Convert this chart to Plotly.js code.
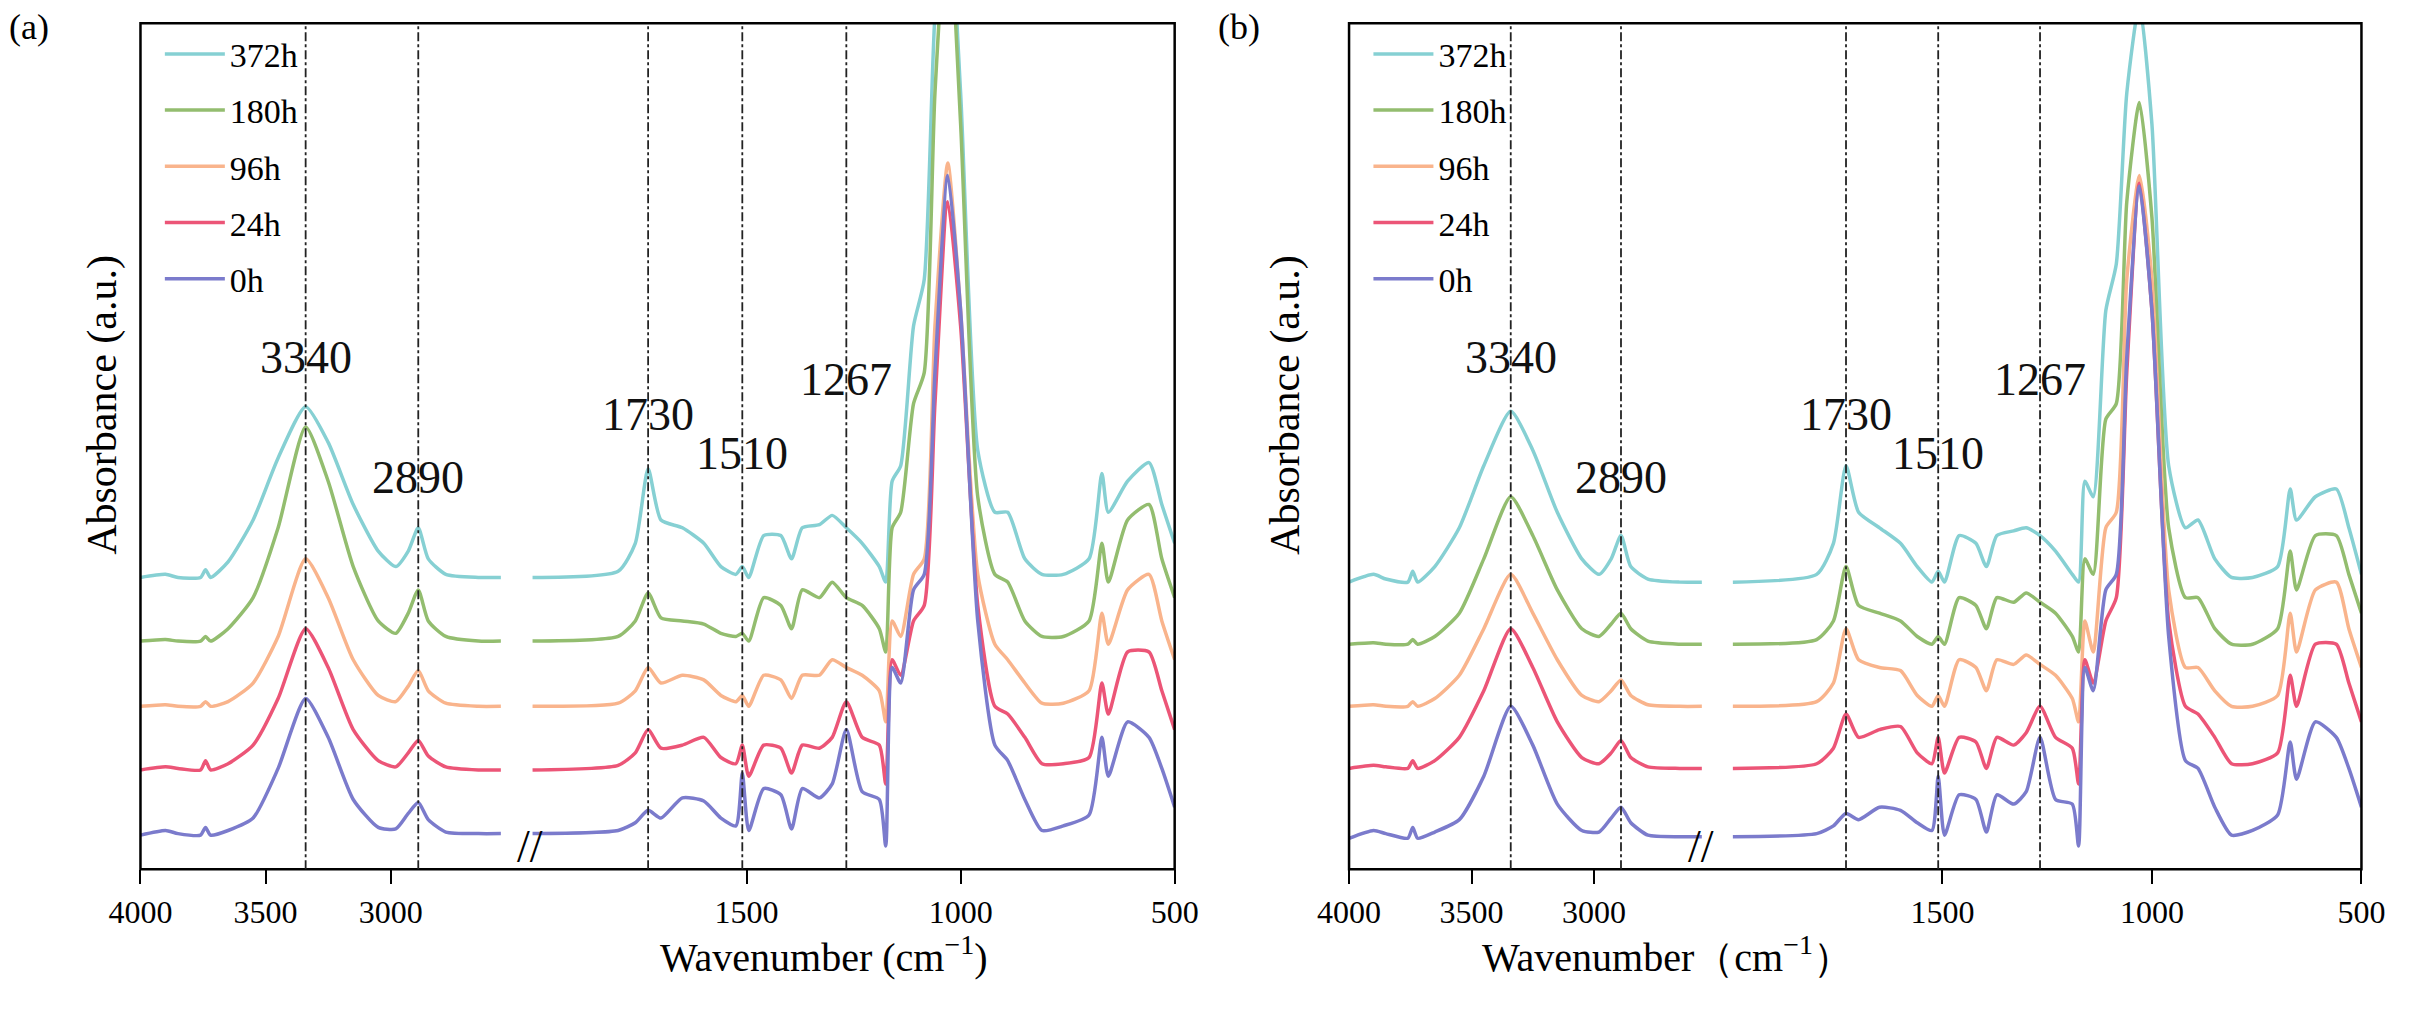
<!DOCTYPE html>
<html>
<head>
<meta charset="utf-8">
<script src="https://cdn.plot.ly/plotly-3.0.1.min.js"></script>
<style>body{margin:0;background:#fff}#chart{width:2422px;height:1012px}</style>
</head>
<body>
<div id="chart"></div>
<script>
// wavenumber grids (cm-1), left and right of the axis break
var xLeft = [4000, 3900, 3850, 3760, 3740, 3720, 3650, 3550, 3450, 3340, 3250, 3150, 3050, 2980, 2930, 2890, 2850, 2780, 2650, 2560];
var xRight = [2000, 1800, 1760, 1730, 1700, 1650, 1600, 1560, 1525, 1510, 1495, 1460, 1420, 1395, 1370, 1330, 1300, 1267, 1230, 1190,
  1175, 1160, 1140, 1110, 1085, 1060, 1030, 1000, 960, 920, 890, 850, 810, 760, 700, 670, 655, 610, 560, 530, 500];

var names = ["372h", "180h", "96h", "24h", "0h"];
var colors = ["#86d0d3", "#93bd6f", "#f9b48c", "#ec5577", "#7b7bcc"];

// panel (a), absorbance with stacking offset
var a_372_L = [1.88,1.9,1.88,1.88,1.93,1.88,1.98,2.25,2.65,2.98,2.75,2.35,2.05,1.95,2.05,2.2,2.0,1.9,1.88,1.88];
var a_372_R = [1.88,1.92,2.1,2.58,2.25,2.2,2.1,1.95,1.9,1.95,1.88,2.15,2.15,2.0,2.2,2.22,2.28,2.2,2.1,1.95,
  1.85,2.5,2.6,3.5,3.8,5.5,6.3,5.0,2.7,2.3,2.3,2.0,1.9,1.9,2.0,2.55,2.3,2.5,2.62,2.35,2.1];
var a_180_L = [1.47,1.48,1.47,1.47,1.5,1.47,1.55,1.75,2.2,2.85,2.5,1.95,1.6,1.52,1.65,1.8,1.6,1.5,1.47,1.47];
var a_180_R = [1.47,1.5,1.6,1.78,1.62,1.6,1.58,1.52,1.5,1.52,1.47,1.75,1.7,1.55,1.8,1.75,1.85,1.75,1.7,1.55,
  1.4,2.2,2.3,3.0,3.2,5.0,6.2,4.8,2.4,1.9,1.85,1.6,1.5,1.5,1.6,2.1,1.85,2.25,2.35,2.0,1.75];
var a_96_L = [1.05,1.06,1.05,1.05,1.08,1.05,1.08,1.2,1.5,2.0,1.75,1.35,1.12,1.08,1.18,1.28,1.15,1.07,1.05,1.05];
var a_96_R = [1.05,1.07,1.15,1.3,1.2,1.25,1.22,1.12,1.08,1.12,1.05,1.25,1.22,1.1,1.25,1.25,1.35,1.3,1.25,1.15,
  0.95,1.6,1.5,1.9,2.0,3.5,4.55,3.6,1.9,1.45,1.35,1.2,1.07,1.07,1.15,1.65,1.45,1.8,1.9,1.6,1.35];
var a_24_L = [0.64,0.66,0.65,0.64,0.7,0.64,0.68,0.8,1.1,1.55,1.3,0.9,0.7,0.66,0.75,0.83,0.73,0.66,0.64,0.64];
var a_24_R = [0.64,0.67,0.75,0.9,0.78,0.8,0.85,0.72,0.68,0.8,0.6,0.8,0.78,0.62,0.8,0.78,0.85,1.08,0.85,0.8,
  0.55,1.35,1.25,1.6,1.7,3.0,4.3,3.5,1.7,1.05,1.0,0.85,0.68,0.68,0.72,1.2,1.0,1.4,1.4,1.15,0.9];
var a_0_L = [0.22,0.25,0.23,0.22,0.27,0.22,0.25,0.33,0.65,1.1,0.85,0.45,0.27,0.26,0.36,0.43,0.32,0.24,0.23,0.23];
var a_0_R = [0.23,0.25,0.3,0.38,0.33,0.46,0.44,0.33,0.28,0.62,0.25,0.52,0.48,0.26,0.52,0.46,0.55,0.9,0.5,0.45,
  0.15,1.3,1.2,1.8,1.9,3.2,4.47,3.6,1.6,0.8,0.7,0.45,0.25,0.28,0.35,0.85,0.6,0.95,0.85,0.65,0.4];

// panel (b)
var b_372_L = [1.85,1.9,1.87,1.85,1.92,1.85,1.95,2.2,2.6,2.95,2.7,2.3,2.0,1.9,2.0,2.15,1.95,1.87,1.85,1.85];
var b_372_R = [1.85,1.9,2.1,2.6,2.3,2.2,2.1,1.95,1.85,1.92,1.85,2.15,2.1,1.95,2.15,2.18,2.2,2.15,2.05,1.9,
  1.85,2.5,2.4,3.6,3.9,5.0,5.57,4.8,2.6,2.2,2.25,2.0,1.88,1.88,1.95,2.45,2.25,2.4,2.45,2.2,1.9];
var b_180_L = [1.45,1.46,1.45,1.45,1.48,1.45,1.5,1.65,2.0,2.4,2.15,1.8,1.55,1.5,1.58,1.65,1.55,1.47,1.45,1.45];
var b_180_R = [1.45,1.48,1.6,1.95,1.7,1.65,1.6,1.5,1.45,1.5,1.45,1.75,1.7,1.55,1.75,1.72,1.78,1.72,1.65,1.5,
  1.4,2.0,1.9,2.9,3.0,4.3,4.94,4.2,2.2,1.75,1.75,1.55,1.45,1.45,1.55,2.05,1.8,2.15,2.15,1.9,1.65];
var b_96_L = [1.05,1.06,1.05,1.05,1.08,1.05,1.1,1.25,1.55,1.9,1.65,1.35,1.12,1.08,1.15,1.22,1.12,1.06,1.05,1.05];
var b_96_R = [1.05,1.08,1.2,1.55,1.35,1.3,1.28,1.12,1.05,1.12,1.05,1.35,1.3,1.15,1.35,1.32,1.38,1.32,1.25,1.1,
  0.95,1.6,1.4,2.2,2.3,3.8,4.47,3.8,1.8,1.3,1.3,1.15,1.05,1.05,1.12,1.65,1.4,1.8,1.85,1.55,1.3];
var b_24_L = [0.65,0.67,0.66,0.65,0.7,0.65,0.7,0.85,1.15,1.55,1.3,0.95,0.72,0.68,0.75,0.83,0.72,0.66,0.65,0.65];
var b_24_R = [0.65,0.68,0.78,1.0,0.85,0.9,0.92,0.75,0.68,0.85,0.62,0.85,0.82,0.65,0.85,0.8,0.88,1.05,0.85,0.78,
  0.55,1.35,1.2,1.6,1.75,3.2,4.42,3.6,1.6,1.05,1.0,0.85,0.68,0.68,0.75,1.25,1.05,1.45,1.45,1.2,0.95];
var b_0_L = [0.2,0.25,0.23,0.2,0.27,0.2,0.24,0.32,0.6,1.05,0.8,0.42,0.25,0.24,0.33,0.4,0.3,0.22,0.21,0.21];
var b_0_R = [0.21,0.23,0.28,0.36,0.32,0.4,0.38,0.3,0.25,0.6,0.22,0.48,0.45,0.24,0.48,0.42,0.5,0.85,0.45,0.42,
  0.15,1.3,1.15,1.8,1.9,3.3,4.4,3.6,1.5,0.7,0.65,0.4,0.22,0.25,0.35,0.82,0.58,0.95,0.85,0.65,0.4];

var bands = [3340, 2890, 1730, 1510, 1267];
var bandLabelY = [3.12, 2.35, 2.75, 2.5, 2.98];

var seriesA = [[a_372_L, a_372_R], [a_180_L, a_180_R], [a_96_L, a_96_R], [a_24_L, a_24_R], [a_0_L, a_0_R]];
var seriesB = [[b_372_L, b_372_R], [b_180_L, b_180_R], [b_96_L, b_96_R], [b_24_L, b_24_R], [b_0_L, b_0_R]];

var FONT = "Liberation Serif, Times New Roman, serif";
var data = [];

function addPanel(series, xl, xr, ya, legendName) {
  for (var i = 0; i < series.length; i++) {
    data.push({x: xLeft, y: series[i][0], xaxis: xl, yaxis: ya, type: 'scatter', mode: 'lines',
      line: {color: colors[i], width: 3.5, shape: 'spline', smoothing: 0.6},
      name: names[i], legend: legendName, legendgroup: legendName + i, showlegend: true});
    data.push({x: xRight, y: series[i][1], xaxis: xr, yaxis: ya, type: 'scatter', mode: 'lines',
      line: {color: colors[i], width: 3.5, shape: 'spline', smoothing: 0.6},
      name: names[i], legend: legendName, legendgroup: legendName + i, showlegend: false});
  }
}
addPanel(seriesA, 'x', 'x2', 'y', 'legend');
addPanel(seriesB, 'x3', 'x4', 'y2', 'legend2');

var pa = [0.058, 0.485], pb = [0.557, 0.975];
var yDom = [0.141, 0.977];

function xax(dom, rng, ticks, anchor) {
  return {domain: dom, range: rng, anchor: anchor, tickvals: ticks, ticks: 'outside', ticklen: 14,
    tickwidth: 2, tickcolor: '#000', showgrid: false, zeroline: false, showline: false, automargin: false,
    tickfont: {family: FONT, size: 32, color: '#000'}};
}
function seg(p, a, b) { return [p[0] + a * (p[1] - p[0]), p[0] + b * (p[1] - p[0])]; }

var shapes = [], annotations = [];
[[pa, 'x', 'x2', 'y', '(a)', 'Wavenumber (cm<sup>−1</sup>)'], [pb, 'x3', 'x4', 'y2', '(b)', 'Wavenumber（cm<sup>−1</sup>）']].forEach(function (p) {
  var dom = p[0];
  shapes.push({type: 'rect', xref: 'paper', yref: 'paper', x0: dom[0], x1: dom[1], y0: yDom[0], y1: yDom[1],
    line: {color: '#000', width: 2.5}});
  bands.forEach(function (b, k) {
    var xr = b > 2200 ? p[1] : p[2];
    shapes.push({type: 'line', xref: xr, yref: p[3] + ' domain', x0: b, x1: b, y0: 0, y1: 1,
      line: {color: '#222', width: 1.8, dash: 'dashdot'}});
    annotations.push({xref: xr, yref: p[3], x: b, y: bandLabelY[k], text: String(b), showarrow: false,
      yanchor: 'bottom', font: {family: FONT, size: 46, color: '#111'}});
  });
  var bx = dom[0] + 0.362 * (dom[1] - dom[0]);
  annotations.push({xref: 'paper', yref: 'paper', x: bx, y: yDom[0] - 0.005, text: '//', showarrow: false,
    font: {family: FONT, size: 46, color: '#000'}});
  annotations.push({xref: 'paper', yref: 'paper', x: dom[0] - 0.055, y: 0.995, text: p[4], showarrow: false,
    xanchor: 'left', yanchor: 'top', font: {family: FONT, size: 36, color: '#000'}});
  annotations.push({xref: 'paper', yref: 'paper', x: (dom[0] + dom[1]) / 2, y: 0.03, text: p[5], showarrow: false,
    font: {family: FONT, size: 40, color: '#000'}});
  annotations.push({xref: 'paper', yref: 'paper', x: dom[0] - 0.026, y: 0.6, text: 'Absorbance (a.u.)', showarrow: false,
    textangle: -90, font: {family: FONT, size: 42, color: '#000'}});
});

var legendBase = {bgcolor: 'rgba(0,0,0,0)', font: {family: FONT, size: 34, color: '#000'}, y: 0.975,
  yanchor: 'top', xanchor: 'left', tracegroupgap: 9, itemwidth: 60};

var layout = {
  width: 2422, height: 1012, margin: {l: 0, r: 0, t: 0, b: 0},
  paper_bgcolor: '#fff', plot_bgcolor: '#fff',
  xaxis: xax(seg(pa, 0, 0.355), [4000, 2533], [4000, 3500, 3000], 'y'),
  xaxis2: xax(seg(pa, 0.37, 1), [2022, 500], [1500, 1000, 500], 'y'),
  xaxis3: xax(seg(pb, 0, 0.355), [4000, 2533], [4000, 3500, 3000], 'y2'),
  xaxis4: xax(seg(pb, 0.37, 1), [2022, 500], [1500, 1000, 500], 'y2'),
  yaxis: {domain: yDom, range: [0, 5.45], anchor: 'x', showticklabels: false, ticks: '', showgrid: false, zeroline: false},
  yaxis2: {domain: yDom, range: [0, 5.45], anchor: 'x3', showticklabels: false, ticks: '', showgrid: false, zeroline: false},
  legend: Object.assign({}, legendBase, {x: pa[0] + 0.008}),
  legend2: Object.assign({}, legendBase, {x: pb[0] + 0.008}),
  shapes: shapes,
  annotations: annotations
};

Plotly.newPlot('chart', data, layout, {staticPlot: true});
</script>
</body>
</html>
